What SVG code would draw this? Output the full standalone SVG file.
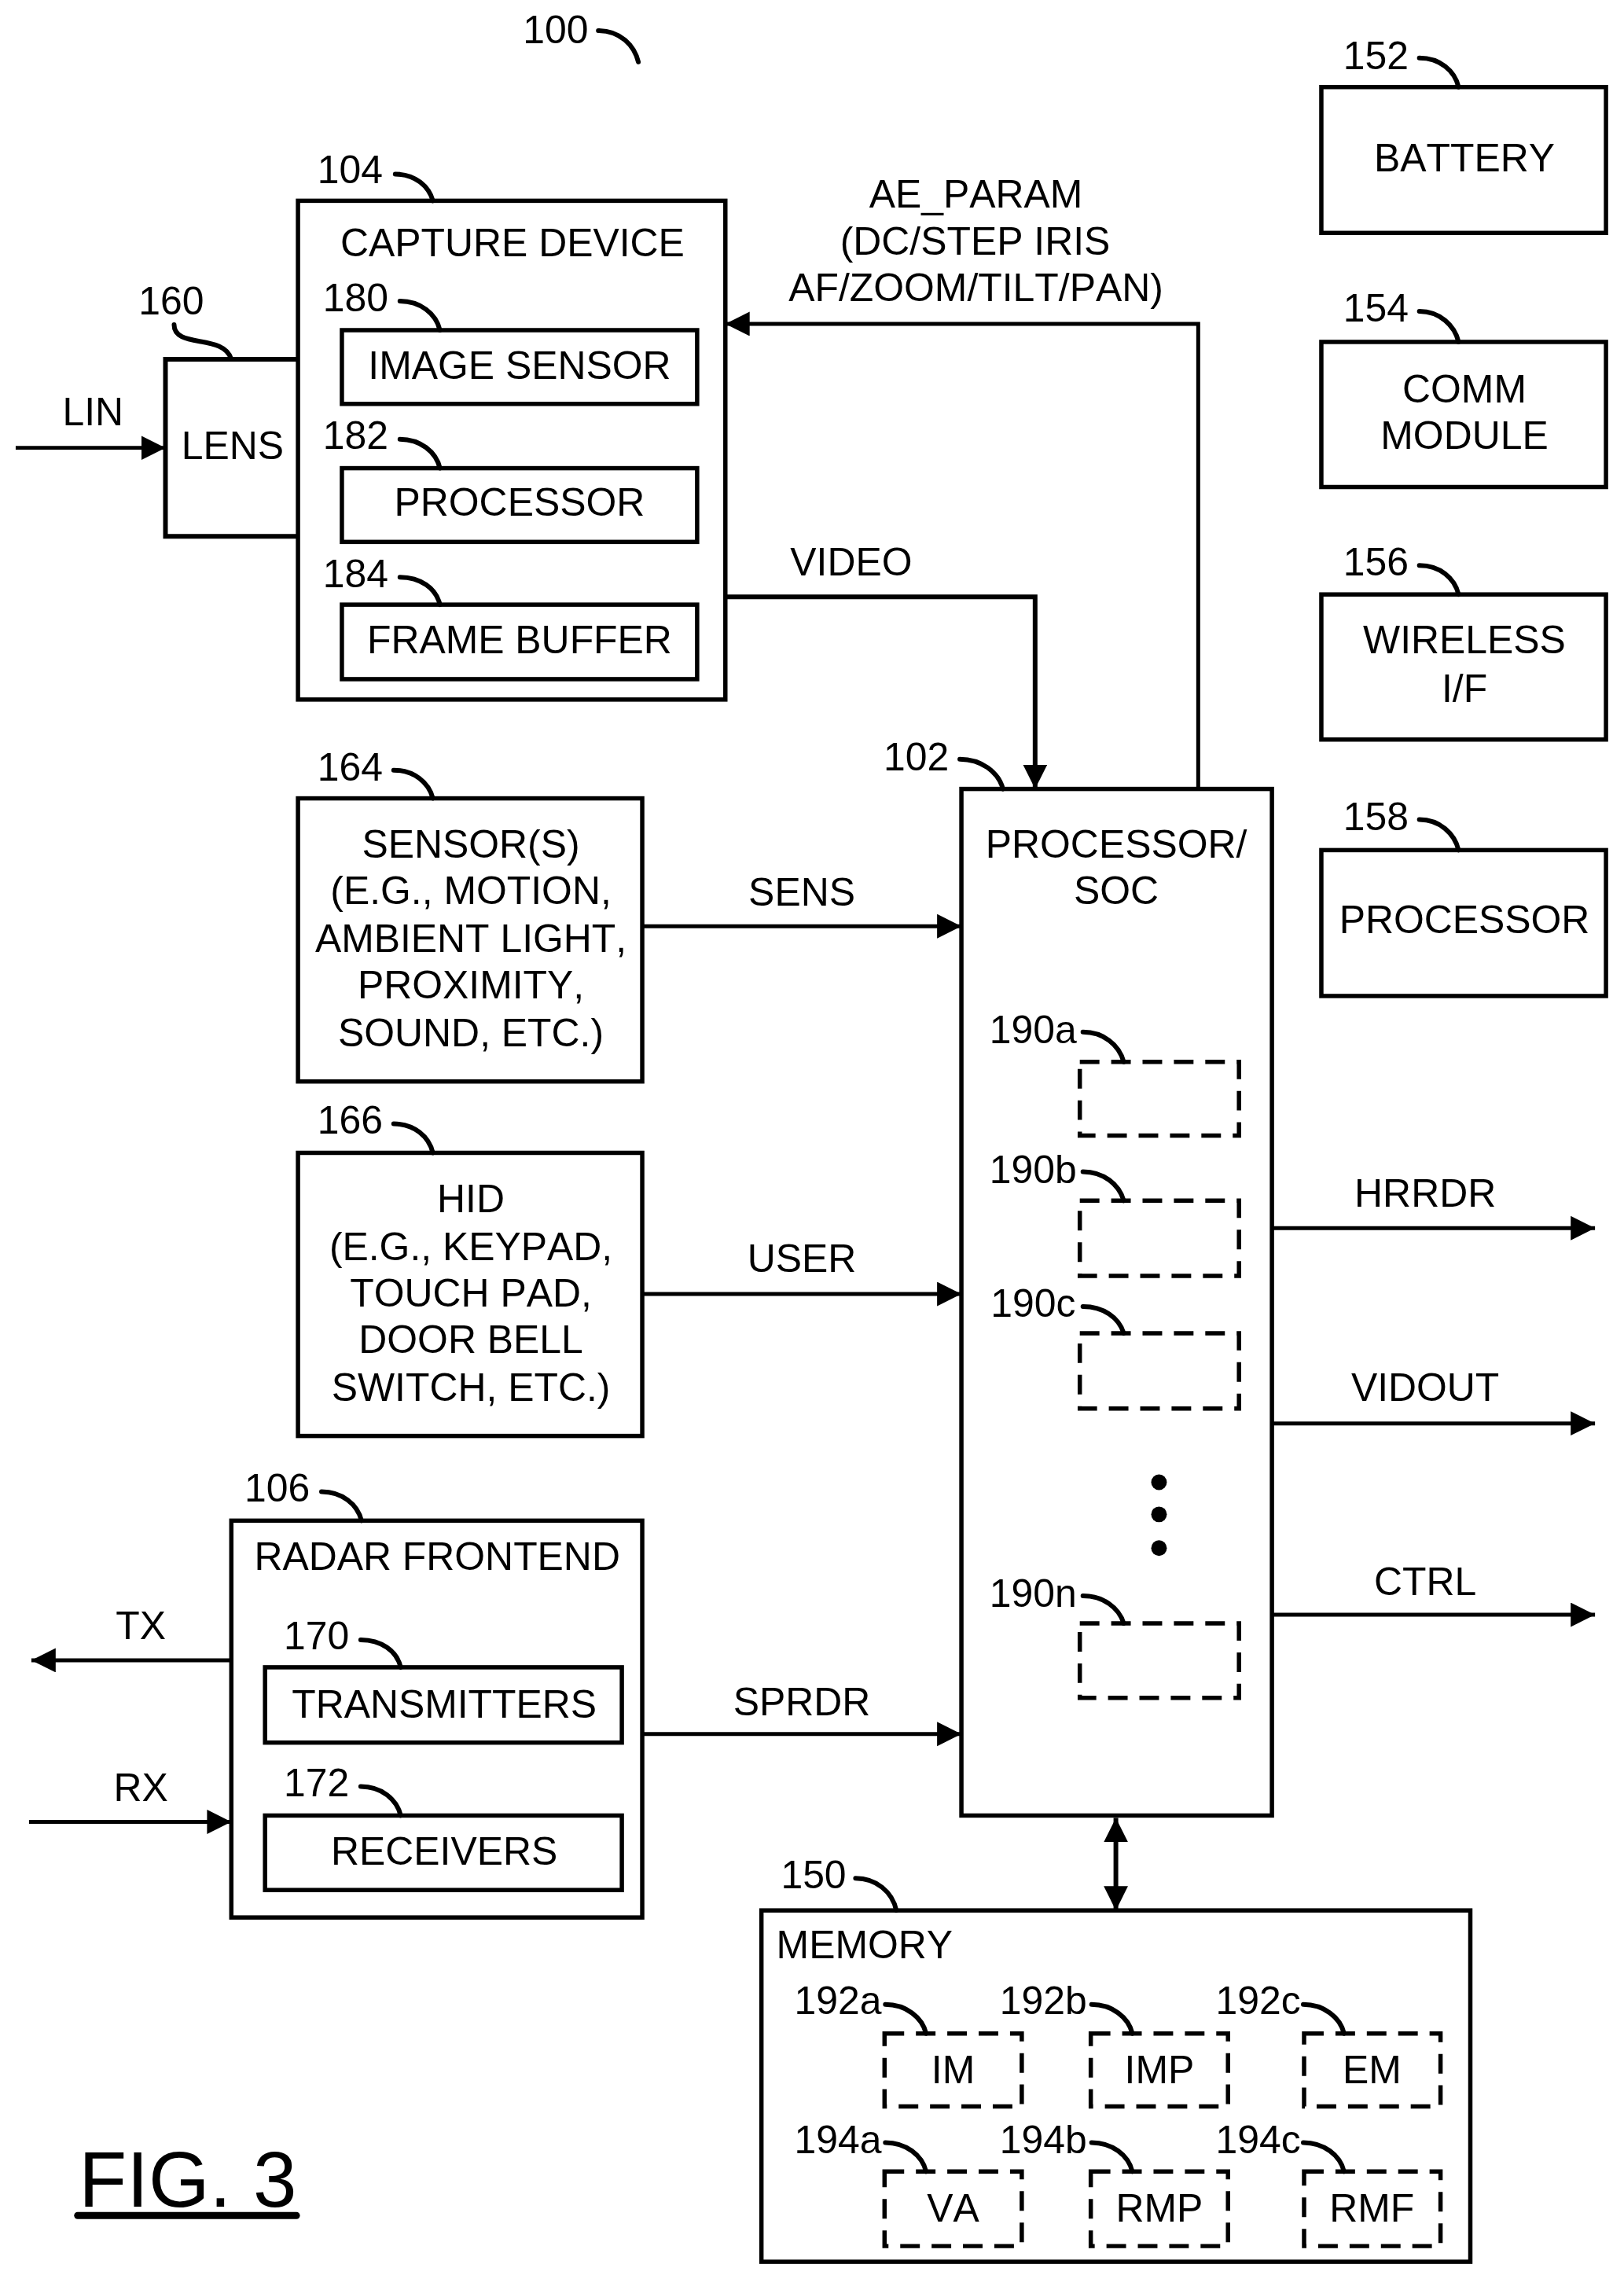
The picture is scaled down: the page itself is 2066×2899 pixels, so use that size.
<svg xmlns="http://www.w3.org/2000/svg" width="2066" height="2899" viewBox="0 0 2066 2899">
<style>
text{font-family:"Liberation Sans",Arial,sans-serif;font-size:50px;fill:#000;text-anchor:middle;font-kerning:none;transform:translate(1.5px,-1.5px)}
rect{fill:none;stroke:#000;stroke-width:5.5}
.d{stroke-dasharray:25 15;stroke-linecap:butt;stroke-width:5.5}
path,line{fill:none;stroke:#000;stroke-width:5}
.l{stroke-linecap:round;stroke-width:6}
.t{stroke-width:6}
.h{fill:#000;stroke:none}
</style>
<defs>
<marker id="a" markerUnits="userSpaceOnUse" markerWidth="33" markerHeight="33" refX="31" refY="15.5" orient="auto-start-reverse"><polygon class="h" points="0,0 31,15.5 0,31"/></marker>
</defs>
<g transform="scale(0.9976)">
<g id="connectors">
<path d="M20,571H211" marker-end="url(#a)"/>
<path d="M1528,1006V413H925" marker-end="url(#a)"/>
<path class="t" d="M925,761H1320V1006" marker-end="url(#a)"/>
<path d="M819,1181H1226" marker-end="url(#a)"/>
<path d="M819,1650H1226" marker-end="url(#a)"/>
<path d="M819,2211H1226" marker-end="url(#a)"/>
<path d="M1622,1566H2034" marker-end="url(#a)"/>
<path d="M1622,1815H2034" marker-end="url(#a)"/>
<path d="M1622,2059H2034" marker-end="url(#a)"/>
<path d="M295,2117H40" marker-end="url(#a)"/>
<path d="M37,2323H295" marker-end="url(#a)"/>
<path class="t" d="M1423,2318V2436" marker-start="url(#a)" marker-end="url(#a)"/>
<text x="117" y="544">LIN</text>
<text x="1243" y="266">AE_PARAM</text>
<text x="1242" y="326">(DC/STEP IRIS</text>
<text x="1243" y="385">AF/ZOOM/TILT/PAN)</text>
<text x="1084" y="735">VIDEO</text>
<text x="1021" y="1156">SENS</text>
<text x="1021" y="1623">USER</text>
<text x="1021" y="2189">SPRDR</text>
<text x="1816" y="1540">HRRDR</text>
<text x="1816" y="1788">VIDOUT</text>
<text x="1816" y="2035">CTRL</text>
<text x="178" y="2092">TX</text>
<text x="178" y="2298">RX</text>
</g>
<g id="n100"><text x="707" y="57">100</text><path class="l" d="M763,39C791,39 809,58 814,79"/></g>
<g id="n152"><rect x="1685" y="111" width="363" height="186"/><text x="1753" y="90">152</text><path class="l" d="M1810,74C1836,74 1855,90 1860,111"/><text x="1866" y="220">BATTERY</text></g>
<g id="n154"><rect x="1685" y="436" width="363" height="185"/><text x="1753" y="411">154</text><path class="l" d="M1810,397C1836,397 1855,415 1860,436"/><text x="1866" y="515">COMM</text><text x="1866" y="574">MODULE</text></g>
<g id="n156"><rect x="1685" y="758" width="363" height="185"/><text x="1753" y="735">156</text><path class="l" d="M1810,721C1836,721 1855,737 1860,758"/><text x="1866" y="835">WIRELESS</text><text x="1866" y="897">I/F</text></g>
<g id="n158"><rect x="1685" y="1084" width="363" height="186"/><text x="1753" y="1060">158</text><path class="l" d="M1810,1045C1836,1045 1855,1063 1860,1084"/><text x="1866" y="1191">PROCESSOR</text></g>
<g id="n160"><path class="t" d="M380,458H211V684H380"/><text x="217" y="402">160</text><path class="l" d="M222,414C222,445 285,425 295,458"/><text x="295" y="587">LENS</text></g>
<g id="n104"><rect x="380" y="256" width="545" height="636"/><text x="445" y="235">104</text><path class="l" d="M504,222C530,222 547,238 552,256"/><text x="652" y="328">CAPTURE DEVICE</text></g>
<g id="n180"><rect x="436" y="421" width="453" height="94"/><text x="452" y="398">180</text><path class="l" d="M510,384C536,384 556,400 561,421"/><text x="661" y="485">IMAGE SENSOR</text></g>
<g id="n182"><rect x="436" y="597" width="453" height="94"/><text x="452" y="574">182</text><path class="l" d="M510,560C536,560 556,576 561,597"/><text x="661" y="659">PROCESSOR</text></g>
<g id="n184"><rect x="436" y="771" width="453" height="95"/><text x="452" y="750">184</text><path class="l" d="M510,736C536,736 556,750 561,771"/><text x="661" y="835">FRAME BUFFER</text></g>
<g id="n164"><rect x="380" y="1018" width="439" height="361"/><text x="445" y="997">164</text><path class="l" d="M502,982C528,982 547,998 552,1018"/><text x="599" y="1095">SENSOR(S)</text><text x="599" y="1154">(E.G., MOTION,</text><text x="599" y="1215">AMBIENT LIGHT,</text><text x="599" y="1275">PROXIMITY,</text><text x="599" y="1336">SOUND, ETC.)</text></g>
<g id="n166"><rect x="380" y="1470" width="439" height="361"/><text x="445" y="1447">166</text><path class="l" d="M502,1433C528,1433 547,1449 552,1470"/><text x="599" y="1547">HID</text><text x="599" y="1608">(E.G., KEYPAD,</text><text x="599" y="1668">TOUCH PAD,</text><text x="599" y="1727">DOOR BELL</text><text x="599" y="1788">SWITCH, ETC.)</text></g>
<g id="n106"><rect x="295" y="1939" width="524" height="506"/><text x="352" y="1916">106</text><path class="l" d="M410,1902C436,1902 456,1918 461,1939"/><text x="556" y="2003">RADAR FRONTEND</text></g>
<g id="n170"><rect x="338" y="2126" width="455" height="96"/><text x="402" y="2105">170</text><path class="l" d="M460,2091C486,2091 506,2105 511,2126"/><text x="565" y="2192">TRANSMITTERS</text></g>
<g id="n172"><rect x="338" y="2315" width="455" height="95"/><text x="402" y="2292">172</text><path class="l" d="M460,2278C486,2278 506,2294 511,2315"/><text x="565" y="2379">RECEIVERS</text></g>
<g id="n102"><rect x="1226" y="1006" width="396" height="1309"/><text x="1167" y="984">102</text><path class="l" d="M1224,968C1251,968 1273,984 1279,1006"/><text x="1422" y="1095">PROCESSOR/</text><text x="1422" y="1154">SOC</text>
<circle cx="1478" cy="1890" r="10"/><circle cx="1478" cy="1931" r="10"/><circle cx="1478" cy="1974" r="10"/></g>
<g id="n190a"><rect class="d" x="1377" y="1354" width="203" height="94"/><text x="1316" y="1332">190a</text><path class="l" d="M1381,1316C1407,1316 1427,1332 1433,1354"/></g>
<g id="n190b"><rect class="d" x="1377" y="1531" width="203" height="96"/><text x="1316" y="1510">190b</text><path class="l" d="M1381,1494C1407,1494 1427,1510 1433,1531"/></g>
<g id="n190c"><rect class="d" x="1377" y="1700" width="203" height="96"/><text x="1316" y="1681">190c</text><path class="l" d="M1381,1666C1407,1666 1427,1680 1433,1700"/></g>
<g id="n190n"><rect class="d" x="1377" y="2070" width="203" height="95"/><text x="1316" y="2050">190n</text><path class="l" d="M1381,2035C1407,2035 1427,2050 1433,2070"/></g>
<g id="n150"><rect x="971" y="2436" width="904" height="448"/><text x="1036" y="2409">150</text><path class="l" d="M1091,2395C1117,2395 1138,2412 1143,2436"/><text x="1101" y="2498">MEMORY</text></g>
<g id="n192a"><rect class="d" x="1128" y="2593" width="175" height="93"/><text x="1067" y="2570">192a</text><path class="l" d="M1129,2556C1155,2556 1176,2572 1181,2593"/><text x="1214" y="2658">IM</text></g>
<g id="n192b"><rect class="d" x="1391" y="2593" width="175" height="93"/><text x="1329" y="2570">192b</text><path class="l" d="M1392,2556C1418,2556 1439,2572 1444,2593"/><text x="1477" y="2658">IMP</text></g>
<g id="n192c"><rect class="d" x="1663" y="2593" width="174" height="93"/><text x="1603" y="2570">192c</text><path class="l" d="M1662,2556C1688,2556 1709,2572 1714,2593"/><text x="1748" y="2658">EM</text></g>
<g id="n194a"><rect class="d" x="1128" y="2769" width="175" height="95"/><text x="1067" y="2747">194a</text><path class="l" d="M1129,2732C1155,2732 1176,2748 1181,2769"/><text x="1214" y="2834">VA</text></g>
<g id="n194b"><rect class="d" x="1391" y="2769" width="175" height="95"/><text x="1329" y="2747">194b</text><path class="l" d="M1392,2732C1418,2732 1439,2748 1444,2769"/><text x="1477" y="2834">RMP</text></g>
<g id="n194c"><rect class="d" x="1663" y="2769" width="174" height="95"/><text x="1603" y="2747">194c</text><path class="l" d="M1662,2732C1688,2732 1709,2748 1714,2769"/><text x="1748" y="2834">RMF</text></g>
<g id="fig"><text x="238" y="2815" style="font-size:100px">FIG. 3</text><line x1="99" y1="2825" x2="378" y2="2825" style="stroke-width:9;stroke-linecap:round"/></g>
</g>
</svg>
